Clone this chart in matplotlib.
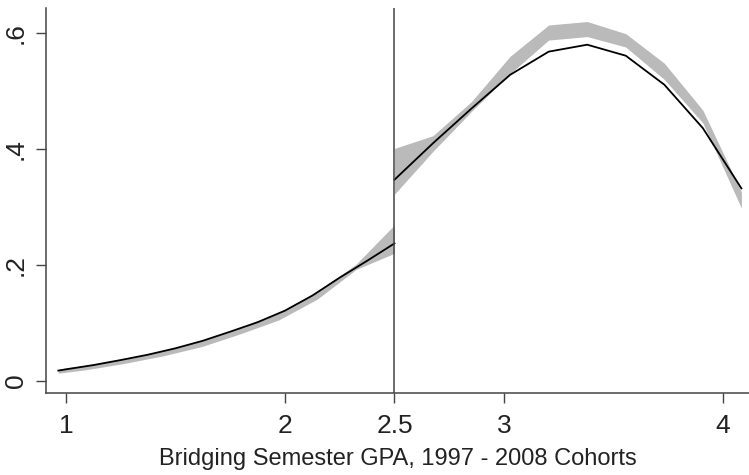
import matplotlib
matplotlib.use("Agg")
import matplotlib.pyplot as plt

plt.rcParams['font.family'] = ['Liberation Sans', 'DejaVu Sans']

# left of cutoff: fitted line (smooth)
left_x = [0.965, 1.0, 1.125, 1.25, 1.375, 1.5, 1.625, 1.75, 1.875, 2.0, 2.125, 2.25, 2.375, 2.5]
left_y = [0.0175, 0.0197, 0.027, 0.0357, 0.045, 0.056, 0.069, 0.0847, 0.101, 0.121, 0.147, 0.178, 0.207, 0.237]

# left of cutoff: grey band
left_bx = [0.965, 1.092, 1.268, 1.444, 1.62, 1.796, 1.972, 2.148, 2.324, 2.5]
left_lo = [0.013, 0.019, 0.030, 0.043, 0.059, 0.081, 0.105, 0.141, 0.192, 0.220]
left_hi = [0.020, 0.027, 0.038, 0.052, 0.069, 0.092, 0.118, 0.154, 0.201, 0.269]

# right of cutoff
right_x = [2.5, 2.676, 2.852, 3.028, 3.204, 3.38, 3.556, 3.732, 3.908, 4.084]
right_y = [0.347, 0.41, 0.47, 0.528, 0.568, 0.58, 0.561, 0.511, 0.436, 0.332]
right_lo = [0.322, 0.396, 0.465, 0.530, 0.588, 0.594, 0.576, 0.520, 0.445, 0.298]
right_hi = [0.401, 0.423, 0.482, 0.560, 0.614, 0.620, 0.599, 0.548, 0.467, 0.326]

xticks = [1, 2, 2.5, 3, 4]
xtick_labels = ["1", "2", "2.5", "3", "4"]
yticks = [0, 0.2, 0.4, 0.6]
ytick_labels = ["0", ".2", ".4", ".6"]

fig = plt.figure(figsize=(7.49, 4.75), dpi=100)
ax = fig.add_axes([0.0614, 0.1726, 0.9386, 0.811])

band_col = "#bababa"
ax.fill_between(left_bx, left_lo, left_hi, color=band_col, linewidth=0)
ax.fill_between(right_x, right_lo, right_hi, color=band_col, linewidth=0)
ax.plot(left_x, left_y, color="black", linewidth=1.3)
ax.plot(right_x, right_y, color="black", linewidth=1.3)
ax.axvline(2.5, color="#444444", linewidth=1.1)

ax.set_xlim(0.9087, 4.1187)
ax.set_ylim(-0.0212, 0.6437)

ax.set_xticks(xticks)
ax.set_xticklabels(xtick_labels)
ax.set_yticks(yticks)
ax.set_yticklabels(ytick_labels, rotation=90, va="center")
ax.tick_params(axis="both", direction="out", length=7, width=1, color="#444444",
               labelsize=19, labelcolor="#222222")
ax.tick_params(axis="x", pad=8)
ax.tick_params(axis="y", pad=6)

for s in ["top", "right"]:
    ax.spines[s].set_visible(False)
for s in ["left", "bottom"]:
    ax.spines[s].set_color("#444444")
    ax.spines[s].set_linewidth(1.1)

ax.set_xlabel("Bridging Semester GPA, 1997 - 2008 Cohorts", fontsize=17,
              color="#222222", labelpad=7)

fig.savefig("out.png", dpi=100)
